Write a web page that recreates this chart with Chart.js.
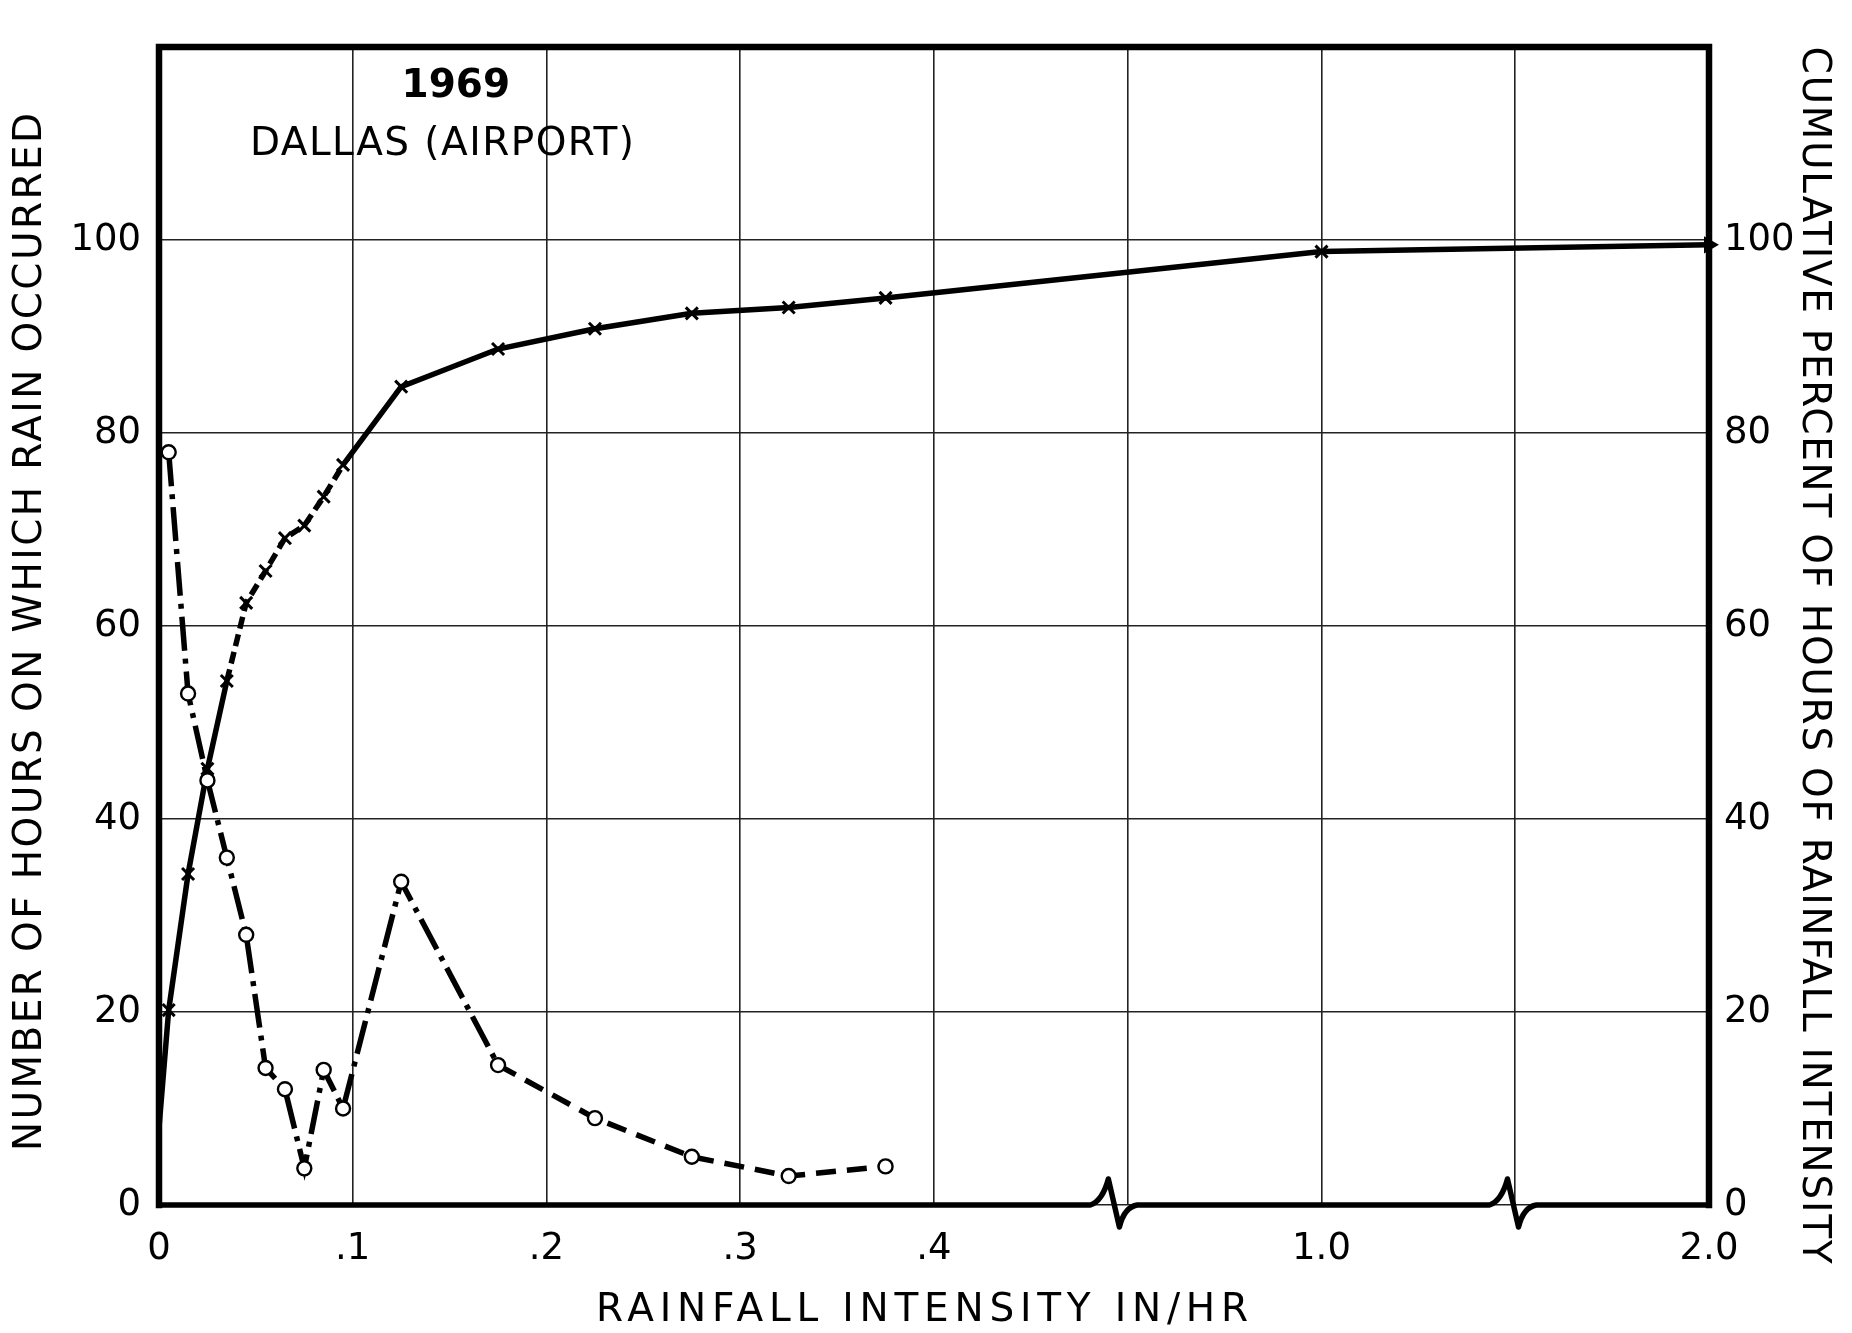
<!DOCTYPE html>
<html>
<head>
<meta charset="utf-8">
<script src="https://cdn.jsdelivr.net/npm/chart.js@4.4.0/dist/chart.umd.min.js"></script>
<style>
  html, body { margin: 0; padding: 0; background: #fff; }
  #wrap { width: 1852px; height: 1333px; }
</style>
</head>
<body>
<div id="wrap"><canvas id="chart" width="1852" height="1333"></canvas></div>
<script>
// hours of rain per intensity class (in/hr, class midpoints)
const hourIntensity = [0.005, 0.015, 0.025, 0.035, 0.045, 0.055, 0.065, 0.075, 0.085, 0.095, 0.125, 0.175, 0.225, 0.275, 0.325, 0.375];
const hoursOfRain = [78, 53, 44, 36, 28, 14.2, 12, 3.8, 14, 10, 33.5, 14.5, 9, 5, 3, 4];

// cumulative percent of hours
const cumIntensity = [0, 0.005, 0.015, 0.025, 0.035, 0.045, 0.055, 0.065, 0.075, 0.085, 0.095, 0.125, 0.175, 0.225, 0.275, 0.325, 0.375, 1.0, 2.0];
const cumPercent = [8, 20.2, 34.3, 45.2, 54.3, 62.4, 65.7, 69.1, 70.4, 73.4, 76.7, 84.8, 88.7, 90.8, 92.4, 93.0, 94.0, 98.8, 99.5];

// broken x axis: .0-.4 evenly, then 1.0 and 2.0 after breaks
const xTickLabels = ['0', '.1', '.2', '.3', '.4', '', '1.0', '', '2.0'];
const axisAnchorValues = [0, 0.4, 1.0, 2.0];
const axisAnchorSlots = [0, 4, 6, 8];
const breakSlots = [4.9, 6.96];

function slot(v) {
  for (let i = 1; i < axisAnchorValues.length; i++) {
    const a = axisAnchorValues[i - 1], b = axisAnchorValues[i];
    if (v <= b) {
      const sa = axisAnchorSlots[i - 1], sb = axisAnchorSlots[i];
      return sa + (v - a) / (b - a) * (sb - sa);
    }
  }
  return axisAnchorSlots[axisAnchorSlots.length - 1];
}

const FONT = 'DejaVu Sans';

function spacedText(ctx, text, cx, cy, width, size, rot, weight) {
  ctx.save();
  ctx.translate(cx, cy);
  ctx.rotate(rot);
  ctx.font = (weight || 'normal') + ' ' + size + 'px "' + FONT + '"';
  ctx.letterSpacing = '0px';
  const w = ctx.measureText(text).width;
  const s = Math.max(0, (width - w) / (text.length - 1));
  ctx.letterSpacing = s + 'px';
  ctx.textAlign = 'left';
  ctx.textBaseline = 'middle';
  ctx.fillStyle = '#000';
  ctx.fillText(text, -width / 2, 0);
  ctx.restore();
}

const framePlugin = {
  id: 'frame',
  afterDraw(chart) {
    const { ctx, chartArea: a, scales } = chart;
    const base = a.bottom;
    ctx.save();
    ctx.strokeStyle = '#000';
    ctx.lineCap = 'square';
    ctx.lineWidth = 6.5;
    ctx.beginPath();
    ctx.moveTo(a.left, base);
    ctx.lineTo(a.left, a.top);
    ctx.lineTo(a.right, a.top);
    ctx.lineTo(a.right, base);
    ctx.stroke();

    // bottom line with break marks
    ctx.lineWidth = 5.5;
    ctx.lineJoin = 'round';
    ctx.beginPath();
    ctx.moveTo(a.left, base);
    breakSlots.forEach(b => {
      const px = scales.x.getPixelForValue(b);
      ctx.lineTo(px - 18, base);
      ctx.quadraticCurveTo(px - 6, base - 4, px, base - 26);
      ctx.lineTo(px + 11, base + 22);
      ctx.quadraticCurveTo(px + 16, base + 2, px + 29, base);
    });
    ctx.lineTo(a.right, base);
    ctx.stroke();
    ctx.restore();

    spacedText(ctx, '1969', 449, 87, 95, 39, 0, 'bold');
    spacedText(ctx, 'DALLAS (AIRPORT)', 442, 145, 384, 39, 0);
    spacedText(ctx, 'RAINFALL INTENSITY IN/HR', 922, 1311, 652, 39, 0);
    spacedText(ctx, 'NUMBER OF HOURS ON WHICH RAIN OCCURRED', 31, 632, 1038, 39, -Math.PI / 2);
    spacedText(ctx, 'CUMULATIVE PERCENT OF HOURS OF RAINFALL INTENSITY', 1813, 655, 1217, 39, Math.PI / 2);
  }
};

const hourPoints = hourIntensity.map((v, i) => ({ x: slot(v), y: hoursOfRain[i] }));
const cumPoints = cumIntensity.map((v, i) => ({ x: slot(v), y: cumPercent[i] }));
const last = cumPoints.length - 1;

new Chart(document.getElementById('chart').getContext('2d'), {
  type: 'line',
  data: {
    datasets: [
      {
        label: 'Hours',
        data: hourPoints,
        yAxisID: 'y',
        borderColor: '#000',
        borderWidth: 5.5,
        tension: 0,
        clip: false,
        pointStyle: 'circle',
        pointRadius: 7,
        pointBorderWidth: 2.4,
        pointBorderColor: '#000',
        pointBackgroundColor: '#fff',
        segment: {
          borderDash: c => c.p0DataIndex >= 11 ? [20, 11] : [34, 8, 5, 8]
        }
      },
      {
        label: 'Cumulative percent',
        data: cumPoints,
        yAxisID: 'y2',
        borderColor: '#000',
        borderWidth: 5.5,
        tension: 0,
        clip: false,
        pointStyle: cumPoints.map((p, i) => i === last ? 'triangle' : 'crossRot'),
        rotation: cumPoints.map((p, i) => i === last ? 90 : 0),
        pointRadius: cumPoints.map((p, i) => i === 0 ? 0 : (i === last ? 7 : 8.5)),
        pointBorderWidth: 3,
        pointBorderColor: '#000',
        pointBackgroundColor: '#000',
        segment: {
          borderDash: c => (c.p0DataIndex >= 4 && c.p0DataIndex <= 9) ? [12, 6] : undefined
        }
      }
    ]
  },
  options: {
    responsive: false,
    animation: false,
    devicePixelRatio: 1,
    layout: { padding: { top: 47, left: 0, right: 0, bottom: 0 } },
    plugins: {
      legend: { display: false },
      tooltip: { enabled: false }
    },
    scales: {
      x: {
        type: 'linear',
        min: 0,
        max: 8,
        afterFit: s => { s.height = 128; },
        ticks: {
          stepSize: 1,
          padding: 22,
          color: '#000',
          font: { family: FONT, size: 37 },
          maxRotation: 0,
          callback: v => xTickLabels[v] ?? ''
        },
        grid: { color: '#222', lineWidth: 1.6, drawTicks: false },
        border: { display: false }
      },
      y: {
        position: 'left',
        min: 0,
        max: 120,
        afterFit: s => { s.width = 159; },
        ticks: {
          stepSize: 20,
          padding: 18,
          color: '#000',
          font: { family: FONT, size: 37 },
          callback: v => v === 120 ? '' : v
        },
        grid: { color: '#222', lineWidth: 1.6, drawTicks: false },
        border: { display: false }
      },
      y2: {
        position: 'right',
        min: 0,
        max: 120,
        afterFit: s => { s.width = 143; },
        ticks: {
          stepSize: 20,
          padding: 15,
          color: '#000',
          font: { family: FONT, size: 37 },
          callback: v => v === 120 ? '' : v
        },
        grid: { display: false, drawTicks: false },
        border: { display: false }
      }
    }
  },
  plugins: [framePlugin]
});
</script>
</body>
</html>
